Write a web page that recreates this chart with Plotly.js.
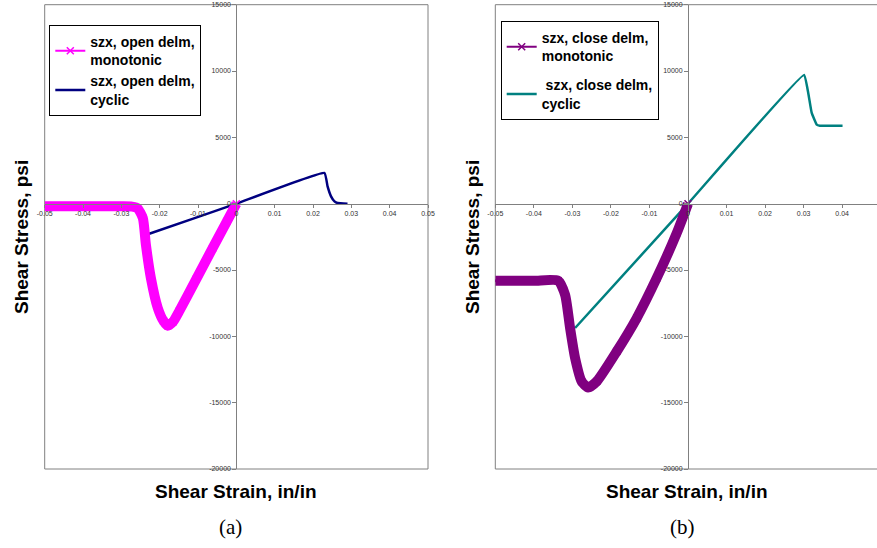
<!DOCTYPE html>
<html>
<head>
<meta charset="utf-8">
<script src="https://cdn.plot.ly/plotly-3.0.1.min.js"></script>
<style>html,body{margin:0;padding:0;background:#fff;}#chart{width:877px;height:548px;}</style>
</head>
<body>
<div id="chart"></div>
<script>
// ---- Data: panel (a) open delamination ----
const openMonoStrain = [-0.05, -0.04, -0.03, -0.0272, -0.0258, -0.0244, -0.0236, -0.0223, -0.0205, -0.0190, -0.0179, -0.0165, -0.0149, -0.0105, -0.0062, -0.0025, 0];
const openMonoStress = [-200, -200, -200, -220, -330, -1080, -3090, -5600, -7860, -8850, -9200, -8900, -8100, -5700, -3350, -1350, 0];
const openCycStrain = [-0.0231, -0.0105, 0, 0.0230, 0.0238, 0.0247, 0.0256, 0.0264, 0.0290];
const openCycStress = [-2300, -1050, 0, 2315, 1300, 550, 170, 50, 0];

// ---- Data: panel (b) closed delamination ----
const closeMonoStrain = [-0.05, -0.04, -0.0337, -0.0319, -0.0306, -0.0293, -0.0276, -0.0259, -0.0237, -0.0185, -0.0133, -0.0081, -0.0029, 0];
const closeMonoStress = [-5810, -5810, -5810, -6860, -9370, -11630, -13400, -13850, -13400, -11140, -8620, -5600, -2200, 0];
const closeCycStrain = [-0.0293, 0, 0.0301, 0.0312, 0.0321, 0.0334, 0.0342, 0.0401];
const closeCycStress = [-9370, 0, 9700, 8350, 6840, 5960, 5880, 5880];

// ---- Tick labels ----
const xTickVals = [-0.05, -0.04, -0.03, -0.02, -0.01, 0, 0.01, 0.02, 0.03, 0.04, 0.05];
const xTickText = ['-0.05', '-0.04', '-0.03', '-0.02', '-0.01', '0', '0.01', '0.02', '0.03', '0.04', '0.05'];
const yTickVals = [-20000, -15000, -10000, -5000, 0, 5000, 10000, 15000];
const yTickText = ['-20000', '-15000', '-10000', '-5000', '0', '5000', '10000', '15000'];

const names = {
  openMono: 'szx, open delm,<br>monotonic',
  openCyc: 'szx, open delm,<br>cyclic',
  closeMono: 'szx, close delm,<br>monotonic',
  closeCyc: ' szx, close delm,<br>cyclic'
};

const magenta = '#FF00FF', navy = '#000080', purple = '#800080', teal = '#008080';

const traces = [
  // panel (a)
  {x: openCycStrain, y: openCycStress, xaxis: 'x', yaxis: 'y', mode: 'lines', name: names.openCyc,
   line: {color: navy, width: 2.5, shape: 'spline', smoothing: 0.3}, legend: 'legend', legendrank: 2},
  {x: openMonoStrain, y: openMonoStress, xaxis: 'x', yaxis: 'y', mode: 'lines+markers', name: names.openMono,
   line: {color: magenta, width: 2}, marker: {symbol: 'x-thin-open', size: 7, color: magenta, line: {color: magenta, width: 1.5}},
   legend: 'legend', legendrank: 1},
  {x: openMonoStrain, y: openMonoStress, xaxis: 'x', yaxis: 'y', mode: 'lines', showlegend: false,
   line: {color: magenta, width: 10, shape: 'spline', smoothing: 0.6}},
  // panel (b)
  {x: closeCycStrain, y: closeCycStress, xaxis: 'x2', yaxis: 'y2', mode: 'lines', name: names.closeCyc,
   line: {color: teal, width: 2.5, shape: 'spline', smoothing: 0.3}, legend: 'legend2', legendrank: 2, legendgroup: 'g2'},
  {x: closeMonoStrain, y: closeMonoStress, xaxis: 'x2', yaxis: 'y2', mode: 'lines+markers', name: names.closeMono,
   line: {color: purple, width: 2}, marker: {symbol: 'x-thin-open', size: 7, color: purple, line: {color: purple, width: 1.5}},
   legend: 'legend2', legendrank: 1, legendgroup: 'g1'},
  {x: closeMonoStrain, y: closeMonoStress, xaxis: 'x2', yaxis: 'y2', mode: 'lines', showlegend: false,
   line: {color: purple, width: 10, shape: 'spline', smoothing: 0.6}}
];

const W = 877, H = 548;
const yDom = [1 - 469 / H, 1 - 4.7 / H];
const x1Dom = [44.7 / W, 428 / W];
const x2Dom = [495.3 / W, 1];
const yZeroPaper = yDom[0] + (yDom[1] - yDom[0]) * (20000 / 35000);
const x1ZeroPaper = x1Dom[0] + (x1Dom[1] - x1Dom[0]) * 0.5;
const x2Range = [-0.05, -0.05 + (W - 495.3) / ((688 - 495.3) / 0.05)];
const x2ZeroPaper = x2Dom[0] + (x2Dom[1] - x2Dom[0]) * (0.05 / (x2Range[1] - x2Range[0]));

const tickFont = {family: 'Arial, Liberation Sans, sans-serif', size: 7, color: '#333'};
function xAx(dom, range) {
  return {domain: dom, range: range, anchor: 'free', position: yZeroPaper,
    tickmode: 'array', tickvals: xTickVals, ticktext: xTickText, tickfont: tickFont,
    showline: true, linecolor: '#808080', linewidth: 1, ticks: 'outside', ticklen: 3, tickcolor: '#808080',
    showgrid: false, zeroline: false, fixedrange: true};
}
function yAx(pos) {
  return {domain: yDom, range: [-20000, 15000], anchor: 'free', position: pos,
    tickmode: 'array', tickvals: yTickVals, ticktext: yTickText, tickfont: tickFont,
    showline: true, linecolor: '#808080', linewidth: 1, ticks: 'outside', ticklen: 4, tickcolor: '#808080',
    showgrid: false, zeroline: false, fixedrange: true};
}

const titleFont = {family: 'Arial, Liberation Sans, sans-serif', size: 19, color: '#000', weight: 'bold'};
const capFont = {family: 'Times New Roman, Liberation Serif, serif', size: 21, color: '#000'};
const legFont = {family: 'Arial, Liberation Sans, sans-serif', size: 14, color: '#000', weight: 'bold'};

const layout = {
  width: W, height: H,
  margin: {l: 0, r: 0, t: 0, b: 0, pad: 0},
  paper_bgcolor: '#fff', plot_bgcolor: '#fff',
  xaxis: xAx(x1Dom, [-0.05, 0.05]),
  yaxis: yAx(x1ZeroPaper),
  xaxis2: xAx(x2Dom, x2Range),
  yaxis2: yAx(x2ZeroPaper),
  legend: {x: 49.3 / W, y: 1 - 25 / H, xanchor: 'left', yanchor: 'top', bgcolor: '#fff',
    bordercolor: '#000', borderwidth: 1, font: legFont, itemwidth: 30, traceorder: 'normal'},
  legend2: {x: 500.7 / W, y: 1 - 21 / H, xanchor: 'left', yanchor: 'top', bgcolor: '#fff',
    bordercolor: '#000', borderwidth: 1, font: legFont, itemwidth: 30, traceorder: 'grouped', tracegroupgap: 8},
  showlegend: true,
  shapes: [
    {type: 'rect', xref: 'x domain', yref: 'y domain', x0: 0, x1: 1, y0: 0, y1: 1, line: {color: '#808080', width: 1}, layer: 'below'},
    {type: 'rect', xref: 'x2 domain', yref: 'y2 domain', x0: 0, x1: 1.05, y0: 0, y1: 1, line: {color: '#808080', width: 1}, layer: 'below'}
  ],
  annotations: [
    {text: 'Shear Stress, psi', xref: 'paper', yref: 'paper', x: 21 / W, y: 1 - 237 / H, textangle: -90, showarrow: false, font: titleFont, xanchor: 'center', yanchor: 'middle'},
    {text: 'Shear Stress, psi', xref: 'paper', yref: 'paper', x: 472 / W, y: 1 - 237 / H, textangle: -90, showarrow: false, font: titleFont, xanchor: 'center', yanchor: 'middle'},
    {text: 'Shear Strain, in/in', xref: 'paper', yref: 'paper', x: 236 / W, y: 1 - 491 / H, showarrow: false, font: titleFont, xanchor: 'center', yanchor: 'middle'},
    {text: 'Shear Strain, in/in', xref: 'paper', yref: 'paper', x: 687 / W, y: 1 - 491 / H, showarrow: false, font: titleFont, xanchor: 'center', yanchor: 'middle'},
    {text: '(a)', xref: 'paper', yref: 'paper', x: 230 / W, y: 1 - 527 / H, showarrow: false, font: capFont, xanchor: 'center', yanchor: 'middle'},
    {text: '(b)', xref: 'paper', yref: 'paper', x: 682 / W, y: 1 - 527 / H, showarrow: false, font: capFont, xanchor: 'center', yanchor: 'middle'}
  ],
  hovermode: false
};

Plotly.newPlot('chart', traces, layout, {displayModeBar: false, staticPlot: true});
</script>
</body>
</html>
